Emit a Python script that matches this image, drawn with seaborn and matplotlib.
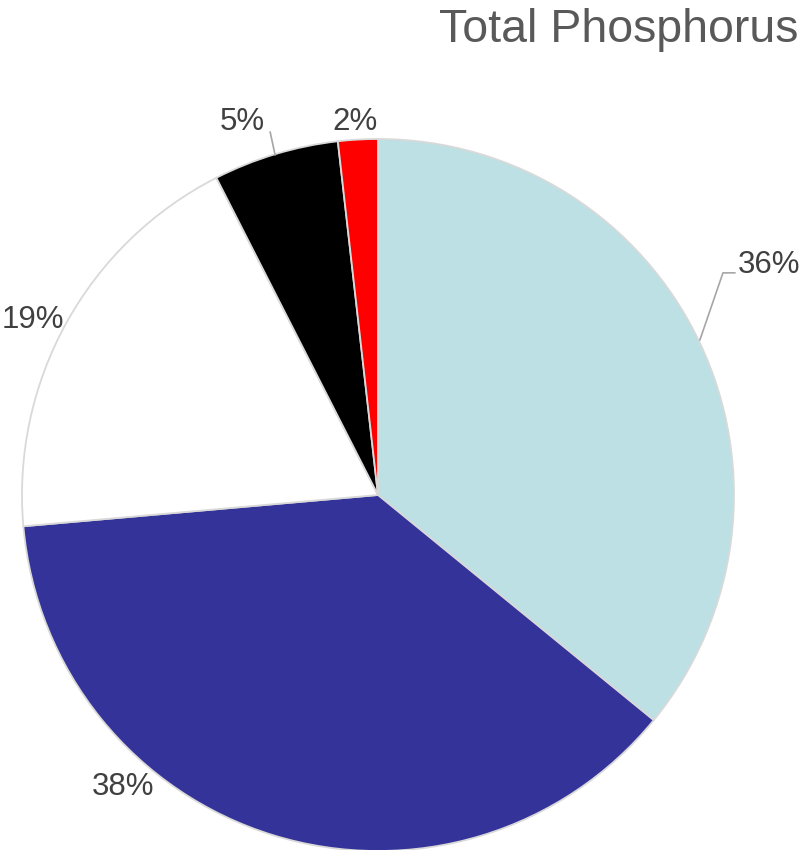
import matplotlib
matplotlib.use("Agg")
import matplotlib.pyplot as plt
import seaborn as sns

# Data
categories = ["Light blue", "Dark blue", "White", "Black", "Red"]
values = [35.9, 37.7, 18.9, 5.7, 1.8]
pct_labels = ["36%", "38%", "19%", "5%", "2%"]
colors = ["#BCE0E3", "#333399", "#FFFFFF", "#000000", "#FF0000"]
title = "Total Phosphorus"

sns.set_theme(style="white")
plt.rcParams["font.family"] = ["Liberation Sans", "DejaVu Sans"]

W, H = 807, 850
fig = plt.figure(figsize=(W / 100, H / 100), dpi=100)
cx, cy, r = 378, 495, 356
ax = fig.add_axes([(cx - r) / W, (H - cy - r) / H, 2 * r / W, 2 * r / H])
ax.pie(values, colors=colors, startangle=90, counterclock=False,
       wedgeprops=dict(edgecolor="#D9D9D9", linewidth=1.3))
ax.set_xlim(-1, 1)
ax.set_ylim(-1, 1)
ax.set_aspect("equal")
ax.axis("off")

lab_color = "#404040"
fs = 22.5
# label positions in data units
pos = {
    "36%": (1.011, 0.646, "left"),
    "38%": (-0.716, -0.820, "center"),
    "19%": (-0.969, 0.492, "center"),
    "5%": (-0.382, 1.048, "center"),
    "2%": (-0.065, 1.048, "center"),
}
for lab in pct_labels:
    x, y, ha = pos[lab]
    ax.text(x, y, lab, ha=ha, va="center", fontsize=fs, color=lab_color, clip_on=False)

# leader lines
ax.plot([0.904, 0.969, 1.003], [0.435, 0.624, 0.624], color="#A6A6A6", lw=1.2, clip_on=False)
ax.plot([-0.303, -0.289], [1.020, 0.955], color="#A6A6A6", lw=1.2, clip_on=False)

fig.text(798 / W, 1 - 42 / H, title, ha="right", va="baseline",
         fontsize=33.5, color="#595959")

fig.savefig("out.png", dpi=100)
